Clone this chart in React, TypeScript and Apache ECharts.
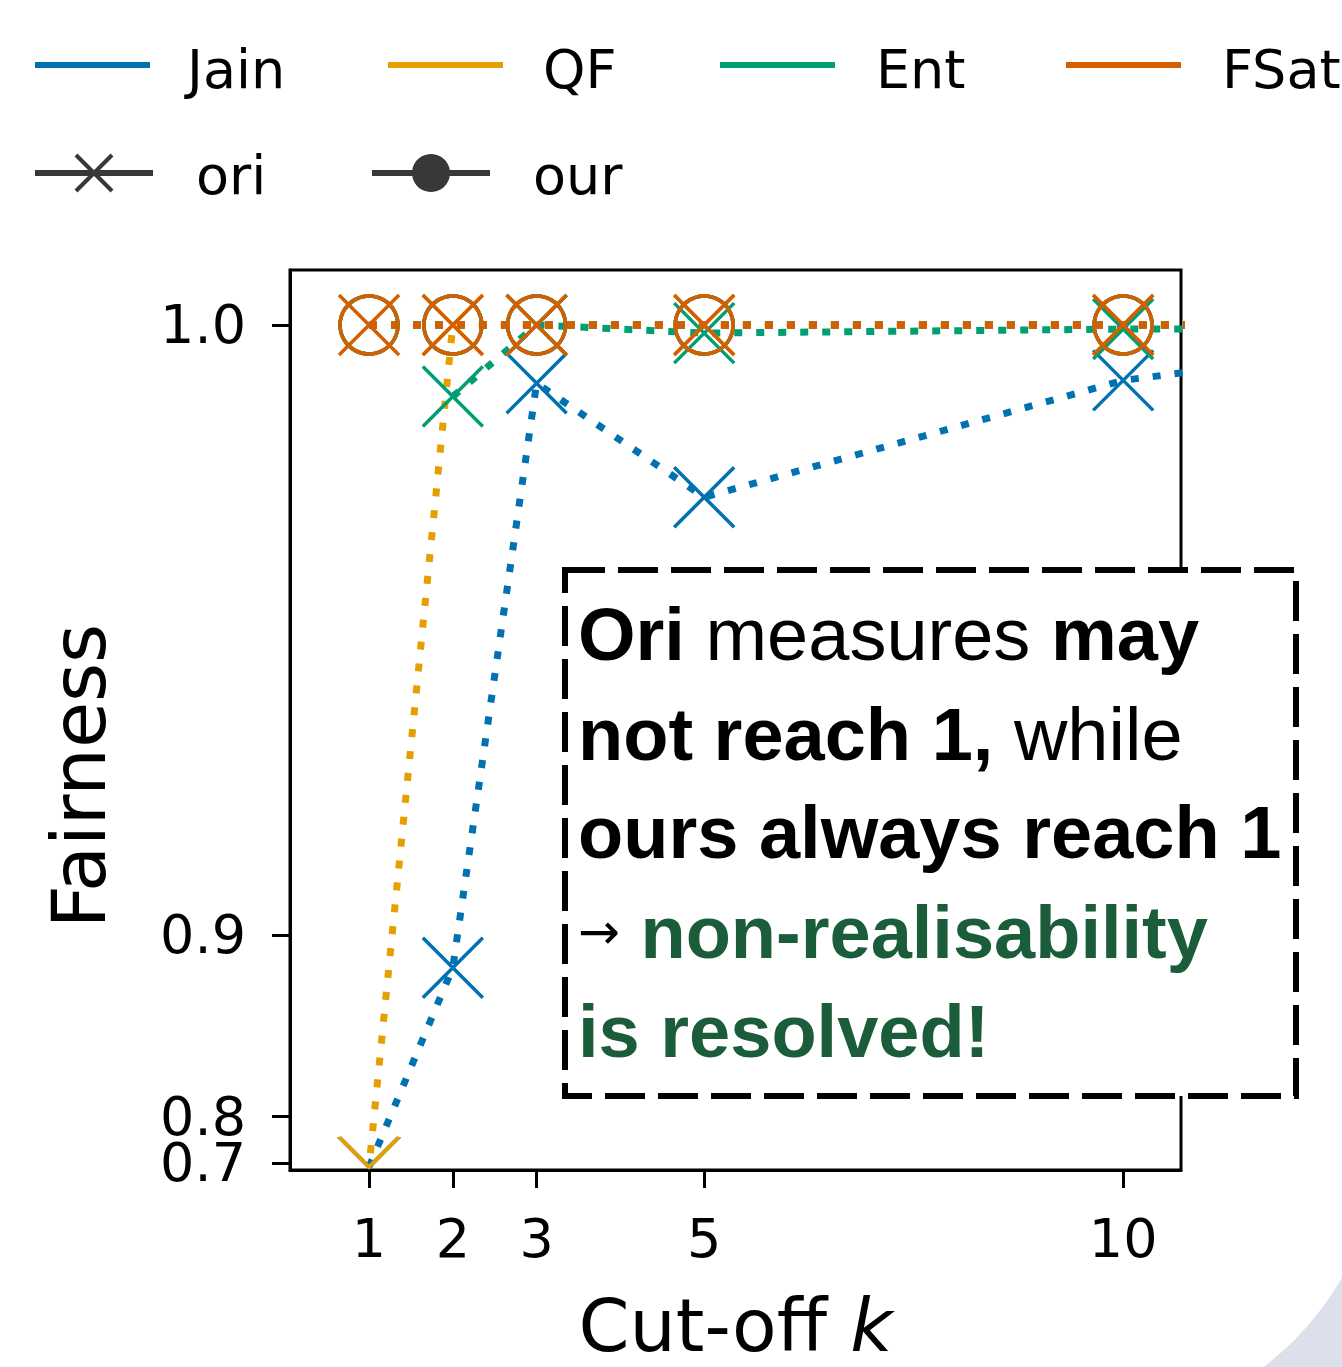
import React, { useEffect, useRef } from "react";
import * as echarts from "echarts";

// ---------- data ----------
const cutoffs = [1, 2, 3, 5, 10, 15];
const jainOri = [0.676, 0.889, 0.9941, 0.9813, 0.9944, 0.9998];
const qfOri = [0.676, 1.0, 1.0, 1.0, 1.0, 1.0];
const entOri = [null, 0.9927, 1.0, 0.9992, 0.9996, 0.9996];
const fsatOri = [1.0, 1.0, 1.0, 1.0, 1.0, 1.0];
const jainOur = [1.0, 1.0, 1.0, 1.0, 1.0, 1.0];
const qfOur = [1.0, 1.0, 1.0, 1.0, 1.0, 1.0];
const entOur = [1.0, 1.0, 1.0, 1.0, 1.0, 1.0];
const fsatOur = [1.0, 1.0, 1.0, 1.0, 1.0, 1.0];

const xTicks = [1, 2, 3, 5, 10];
const yTicks = [0.7, 0.8, 0.9, 1.0];
const xRange = [0.057, 10.69];
const yRange = [0.649, 1.00524];
const POWER = 12; // power scale of the fairness axis

const measures = ["Jain", "QF", "Ent", "FSat"];
const variants = ["ori", "our"];

const COLORS: Record<string, string> = {
  Jain: "#0072b2",
  QF: "#e69f00",
  Ent: "#009e73",
  FSat: "#d55e00",
};
const DARK = "#383838";
const FONT = "DejaVu Sans";
const BOX_FONT = "Liberation Sans";
const GREEN_TEXT = "#1b5c3a";

const tf = (v: number) => Math.pow(v, POWER);

const X_PATH = "path://M0,0L60,60M60,0L0,60";
const V_PATH = "path://M0,0L30,30L60,0";
const MARKER = 60;

const yMinT = tf(yRange[0]);
const yMaxT = tf(yRange[1]);
const halfMarkerT = ((MARKER / 2) / 900) * (yMaxT - yMinT);

function buildData(values: (number | null)[], cross: boolean) {
  const out: any[] = [];
  cutoffs.forEach((k, i) => {
    const v = values[i];
    if (v == null) return;
    const t = tf(v);
    if (cross && t - yMinT < halfMarkerT) {
      // marker cut by the bottom spine: only its upper half is visible
      out.push({
        value: [k, t],
        symbol: V_PATH,
        symbolSize: [MARKER, MARKER / 2],
        symbolOffset: [0, -MARKER / 4],
      });
    } else {
      out.push([k, t]);
    }
  });
  return out;
}

function dotted(color: string, dashOffset = 0) {
  return { color, width: 7, type: [8, 14], dashOffset, cap: "butt" as const };
}

function oriSeries(name: string, values: (number | null)[], dashOffset = 0) {
  const c = COLORS[name];
  return {
    type: "line",
    name: `${name} ori`,
    clip: true,
    data: buildData(values, true),
    symbol: X_PATH,
    symbolSize: MARKER,
    itemStyle: { color: "none", borderColor: c, borderWidth: 3.5 },
    lineStyle: dotted(c, dashOffset),
    emphasis: { disabled: true },
    silent: true,
  };
}

function ourSeries(name: string, values: (number | null)[]) {
  const c = COLORS[name];
  return {
    type: "line",
    name: `${name} our`,
    clip: true,
    data: buildData(values, false),
    symbol: "circle",
    symbolSize: 58,
    itemStyle: { color: "none", borderColor: c, borderWidth: 3.5 },
    lineStyle: dotted(c),
    emphasis: { disabled: true },
    silent: true,
  };
}

function legendGraphics() {
  const els: any[] = [];
  const row1Line = [35, 388, 720, 1066];
  const row1Text = [187, 543, 876, 1222];
  measures.forEach((m, i) => {
    els.push({
      type: "line",
      shape: { x1: row1Line[i], y1: 65, x2: row1Line[i] + 115, y2: 65 },
      style: { stroke: COLORS[m], lineWidth: 6 },
    });
    els.push({
      type: "text",
      x: row1Text[i],
      y: 69,
      style: { text: m, fontSize: 54, fontFamily: FONT, fill: "#000", align: "left", verticalAlign: "middle" },
    });
  });
  const row2Line = [35, 372];
  const row2Text = [196, 533];
  variants.forEach((v, i) => {
    const x0 = row2Line[i];
    const cx = x0 + 59;
    els.push({
      type: "line",
      shape: { x1: x0, y1: 173, x2: x0 + 118, y2: 173 },
      style: { stroke: DARK, lineWidth: 6 },
    });
    if (v === "ori") {
      els.push({ type: "line", shape: { x1: cx - 18, y1: 155, x2: cx + 18, y2: 191 }, style: { stroke: DARK, lineWidth: 4 } });
      els.push({ type: "line", shape: { x1: cx + 18, y1: 155, x2: cx - 18, y2: 191 }, style: { stroke: DARK, lineWidth: 4 } });
    } else {
      els.push({ type: "circle", shape: { cx, cy: 173, r: 19 }, style: { fill: DARK } });
    }
    els.push({
      type: "text",
      x: row2Text[i],
      y: 175,
      style: { text: v, fontSize: 54, fontFamily: FONT, fill: "#000", align: "left", verticalAlign: "middle" },
    });
  });
  return els;
}

function boxGraphics() {
  const rich = {
    b: { fontFamily: BOX_FONT, fontWeight: "bold", fontSize: 74, fill: "#000" },
    n: { fontFamily: BOX_FONT, fontWeight: "normal", fontSize: 74, fill: "#000" },
    g: { fontFamily: BOX_FONT, fontWeight: "bold", fontSize: 74, fill: GREEN_TEXT },
    a: { fontFamily: FONT, fontWeight: "normal", fontSize: 50, fill: "#000" },
  };
  const lines = [
    "{b|Ori}{n| measures }{b|may}",
    "{b|not reach 1,}{n| while}",
    "{b|ours always reach 1}",
    "{a|→}{g| non-realisability}",
    "{g|is resolved!}",
  ];
  const ys = [634, 734, 832, 932, 1031];
  const els: any[] = [
    {
      type: "rect",
      z: 100,
      shape: { x: 565, y: 570, width: 731, height: 526 },
      style: { fill: "#fff", stroke: "#000", lineWidth: 6, lineDash: [40, 13] },
    },
  ];
  lines.forEach((t, i) => {
    els.push({
      type: "text",
      z: 101,
      x: 578,
      y: ys[i],
      style: { text: t, rich, align: "left", verticalAlign: "middle", fontFamily: BOX_FONT, fontSize: 74 },
    });
  });
  return els;
}

const yLabelStyle = {
  formatter: (v: number) => Math.pow(v, 1 / POWER).toFixed(1),
  fontSize: 54,
  fontFamily: FONT,
  color: "#000",
  margin: 44,
};
const yTickStyle = { length: 18, lineStyle: { color: "#000", width: 3 } };

export default function App() {
  const ref = useRef<HTMLDivElement>(null);
  useEffect(() => {
    if (!ref.current) return;
    const chart = echarts.init(ref.current, undefined, { renderer: "svg" });
    const upperTicks = yTicks.slice(1).map(tf);
    const lowestTick = [tf(yTicks[0])];
    const option: any = {
      animation: false,
      backgroundColor: "#fff",
      grid: {
        left: 290,
        top: 270,
        width: 891,
        height: 900,
        show: true,
        borderColor: "#000",
        borderWidth: 3,
        containLabel: false,
        outerBoundsMode: "none",
      },
      xAxis: {
        type: "value",
        min: xRange[0],
        max: xRange[1],
        axisLine: { show: true, lineStyle: { color: "#000", width: 3 } },
        splitLine: { show: false },
        axisTick: { show: true, customValues: xTicks, length: 18, lineStyle: { color: "#000", width: 3 } },
        axisLabel: {
          customValues: xTicks,
          fontSize: 54,
          fontFamily: FONT,
          color: "#000",
          margin: 41,
        },
        name: "Cut-off {i|k}",
        nameLocation: "middle",
        nameGap: 119,
        nameTextStyle: {
          fontSize: 73,
          fontFamily: FONT,
          color: "#000",
          rich: { i: { fontStyle: "italic", fontSize: 73, fontFamily: FONT, color: "#000" } },
        },
      },
      yAxis: [
        {
          type: "value",
          min: yMinT,
          max: yMaxT,
          position: "left",
          axisLine: { show: true, lineStyle: { color: "#000", width: 3 } },
          splitLine: { show: false },
          axisTick: { show: true, customValues: upperTicks, ...yTickStyle },
          axisLabel: { customValues: upperTicks, ...yLabelStyle },
          name: "Fairness",
          nameLocation: "middle",
          nameRotate: 90,
          nameGap: 174,
          nameTextStyle: { fontSize: 75, fontFamily: FONT, color: "#000", padding: [0, 112, 0, 0] },
        },
        {
          // second copy of the same scale, carrying the 0.7 tick that sits close to 0.8
          type: "value",
          min: yMinT,
          max: yMaxT,
          position: "left",
          offset: 0,
          axisLine: { show: false },
          splitLine: { show: false },
          axisTick: { show: true, customValues: lowestTick, ...yTickStyle },
          axisLabel: { customValues: lowestTick, ...yLabelStyle },
        },
      ],
      graphic: [
        { type: "rect", z: -20, shape: { x: 1150, y: 1150, width: 192, height: 217 }, style: { fill: "#dce0eb" } },
        { type: "circle", z: -19, shape: { cx: 1082, cy: 1128, r: 300 }, style: { fill: "#fff" } },
        ...legendGraphics(),
        ...boxGraphics(),
      ],
      series: [
        oriSeries("Jain", jainOri),
        oriSeries("QF", qfOri, 7.8),
        oriSeries("Ent", entOri),
        oriSeries("FSat", fsatOri),
        ourSeries("Jain", jainOur),
        ourSeries("QF", qfOur),
        ourSeries("Ent", entOur),
        ourSeries("FSat", fsatOur),
      ],
    };
    chart.setOption(option);
    return () => chart.dispose();
  }, []);
  return (
    <div
      ref={ref}
      style={{ position: "absolute", left: 0, top: 0, width: 1342, height: 1367 }}
    />
  );
}
